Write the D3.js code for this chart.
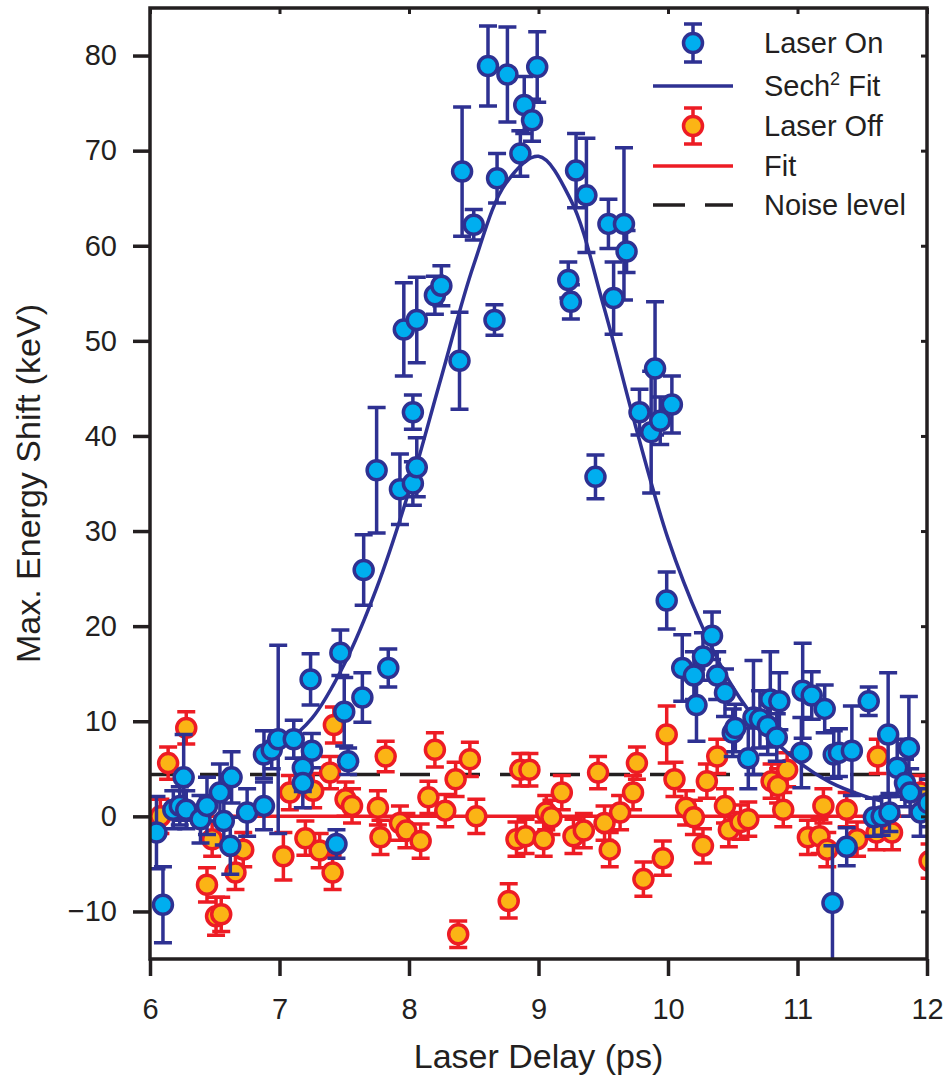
<!DOCTYPE html>
<html>
<head>
<meta charset="utf-8">
<script src="https://cdn.jsdelivr.net/npm/d3@7"></script>
<style>
  html, body { margin: 0; padding: 0; background: #fff; }
  svg { display: block; }
  text { font-family: "Liberation Sans", Arial, Helvetica, sans-serif; fill: #231f20; }
</style>
</head>
<body>
<div id="chart"></div>
<script>
// Laser on / off energy shift vs delay

const xTicks = [6, 7, 8, 9, 10, 11, 12];
const yTicks = [-10, 0, 10, 20, 30, 40, 50, 60, 70, 80];

// Laser On (x = delay ps, y = keV, e = error)
const onX = [6.05, 6.10, 6.18, 6.23, 6.26, 6.28, 6.39, 6.44, 6.54, 6.57, 6.62, 6.63, 6.75, 6.88, 6.88, 6.94, 6.99, 7.11, 7.18, 7.18,
  7.25, 7.24, 7.44, 7.47, 7.50, 7.53, 7.64, 7.65, 7.75, 7.84, 7.93, 7.96, 8.03, 8.03, 8.06, 8.06, 8.20, 8.25, 8.39, 8.41,
  8.50, 8.61, 8.66, 8.68, 8.76, 8.86, 8.89, 8.95, 8.99, 9.23, 9.25, 9.29, 9.37, 9.44, 9.54, 9.58, 9.66, 9.68, 9.78, 9.87,
  9.90, 9.94, 10.03, 9.99, 10.11, 10.20, 10.22, 10.27, 10.34, 10.38, 10.44, 10.50, 10.52, 10.62, 10.66, 10.71, 10.77, 10.79, 10.84, 10.86,
  11.03, 11.04, 11.11, 11.21, 11.27, 11.28, 11.32, 11.38, 11.42, 11.55, 11.59, 11.65, 11.70, 11.71, 11.77, 11.83, 11.86, 11.87, 11.95, 12.01];
const onY = [-1.7, -9.3, 0.7, 1.1, 4.1, 0.7, -0.3, 1.1, 2.5, -0.5, -3.1, 4.1, 0.4, 1.1, 6.5, 7.0, 8.1, 8.1, 5.1, 3.5,
  6.9, 14.4, -2.9, 17.2, 11.0, 5.8, 12.5, 25.9, 36.4, 15.6, 34.4, 51.2, 35.0, 42.5, 36.7, 52.2, 54.8, 55.8, 47.9, 67.8,
  62.2, 78.9, 52.2, 67.1, 78.0, 69.7, 74.8, 73.2, 78.8, 56.4, 54.1, 67.9, 65.3, 35.7, 62.3, 54.5, 62.3, 59.4, 42.5, 40.4,
  47.1, 41.6, 43.3, 22.7, 15.6, 14.8, 11.7, 16.8, 19.0, 14.8, 13.0, 8.8, 9.3, 6.1, 10.4, 10.2, 9.5, 12.3, 8.3, 12.1,
  6.7, 13.2, 12.7, 11.3, -9.1, 6.5, 6.7, -3.2, 6.9, 12.1, -0.1, 0.0, 8.6, 0.4, 5.1, 3.5, 7.2, 2.5, 0.4, 1.4];
const onE = [3.8, 4.0, 2.0, 2.0, 4.5, 2.0, 2.5, 3.0, 3.0, 2.5, 3.0, 2.7, 2.5, 2.5, 2.5, 2.0, 9.9, 2.0, 2.5, 2.6,
  1.8, 2.7, 1.5, 2.4, 3.6, 1.4, 2.6, 3.7, 6.6, 2.0, 3.7, 4.9, 2.3, 1.8, 3.1, 4.5, 2.0, 2.1, 5.1, 6.8,
  1.6, 4.2, 1.6, 2.6, 5.0, 2.4, 3.0, 2.2, 3.7, 1.9, 1.8, 3.9, 6.0, 2.3, 2.6, 3.8, 8.0, 2.2, 2.4, 6.4,
  7.0, 2.5, 3.0, 3.0, 3.5, 2.5, 3.8, 2.5, 2.5, 2.5, 2.5, 2.5, 2.5, 3.2, 6.0, 3.0, 3.0, 5.0, 2.5, 3.0,
  3.7, 5.0, 2.5, 2.5, 6.0, 2.5, 2.5, 2.0, 4.7, 1.5, 2.0, 2.0, 6.5, 2.0, 3.0, 2.5, 5.4, 2.5, 2.5, 2.5];

// Laser Off
const offX = [6.08, 6.14, 6.28, 6.44, 6.48, 6.51, 6.55, 6.66, 6.72, 7.03, 7.08, 7.20, 7.26, 7.31, 7.39, 7.41, 7.42, 7.51, 7.56, 7.76,
  7.78, 7.82, 7.93, 7.98, 8.09, 8.15, 8.20, 8.28, 8.36, 8.38, 8.47, 8.52, 8.77, 8.83, 8.86, 8.90, 8.93, 9.04, 9.06, 9.10,
  9.18, 9.27, 9.35, 9.46, 9.51, 9.55, 9.63, 9.73, 9.76, 9.81, 9.96, 9.99, 10.05, 10.14, 10.20, 10.27, 10.30, 10.38, 10.44, 10.47,
  10.56, 10.62, 10.80, 10.85, 10.89, 10.92, 11.08, 11.17, 11.20, 11.23, 11.38, 11.46, 11.61, 11.62, 11.73, 11.95, 12.02];
const offY = [0.0, 5.6, 9.3, -7.2, -2.4, -10.5, -10.3, -5.9, -3.5, -4.2, 2.5, -2.3, 2.7, -3.6, 4.6, -5.9, 9.6, 1.8, 1.1, 0.9,
  -2.2, 6.3, -0.7, -1.5, -2.6, 2.0, 7.0, 0.6, 3.9, -12.4, 6.0, 0.0, -8.9, -2.4, 4.9, -2.1, 4.9, -2.4, 0.4, -0.1,
  2.5, -2.1, -1.5, 4.6, -0.7, -3.5, 0.4, 2.5, 5.6, -6.6, -4.4, 8.6, 3.9, 0.9, -0.1, -3.1, 3.7, 6.3, 1.1, -1.4,
  -0.6, -0.3, 3.7, 3.2, 0.7, 4.9, -2.2, -2.1, 1.1, -3.5, 0.7, -2.4, -1.7, 6.3, -1.7, 2.5, -4.7];
const offE = [1.8, 1.7, 1.7, 1.8, 1.8, 2.0, 1.8, 1.8, 1.8, 2.5, 1.8, 1.8, 1.8, 1.8, 1.7, 1.8, 1.9, 1.8, 1.8, 1.8,
  1.8, 1.6, 1.8, 1.8, 1.8, 1.7, 1.8, 1.7, 1.8, 1.4, 1.8, 1.8, 1.8, 1.8, 1.7, 1.8, 1.7, 1.8, 1.8, 1.8,
  1.8, 1.8, 1.8, 1.7, 1.8, 1.8, 1.8, 1.8, 1.7, 1.8, 1.8, 3.0, 1.8, 1.8, 1.8, 1.8, 1.8, 1.8, 1.8, 1.8,
  1.8, 1.8, 1.8, 1.8, 1.8, 1.8, 1.8, 1.8, 1.8, 1.8, 1.8, 1.8, 1.8, 1.8, 1.8, 1.8, 1.8];

// Sech^2 fit
const fitX = [7.0, 7.25, 7.5, 7.75, 8.0, 8.25, 8.5, 8.75, 9.0, 9.25, 9.5, 9.75, 10.0, 10.25, 10.5, 10.75, 11.0, 11.25, 11.5, 11.65];
const fitY = [7.2, 10.3, 16.0, 24.0, 34.2, 46.2, 58.0, 66.6, 69.4, 64.8, 53.8, 41.0, 29.2, 20.4, 13.6, 9.0, 5.8, 3.6, 2.2, 1.6];

// laser-off fit and noise level (keV)
const offFitX = [6, 12];
const offFitY = [0, 0];
const noiseX = [6, 12];
const noiseY = [4.4, 4.4];

const legendLabels = ["Laser On", "Sech", "Laser Off", "Fit", "Noise level"];

const W = 946, H = 1081;
const margin = { left: 150, right: 19, top: 8, bottom: 122 };

const navy = "#2e3192", cyan = "#00aeef", red = "#ed1c24", orange = "#fbb415", ink = "#231f20";

const svg = d3.select("#chart").append("svg")
  .attr("width", W).attr("height", H);

const x = d3.scaleLinear().domain([6, 12]).range([margin.left, W - margin.right]);
const y = d3.scaleLinear().domain([-15, 85]).range([H - margin.bottom, margin.top]);

svg.append("clipPath").attr("id", "plot")
  .append("rect")
  .attr("x", x(6)).attr("y", y(85))
  .attr("width", x(12) - x(6)).attr("height", y(-15) - y(85));

const plot = svg.append("g").attr("clip-path", "url(#plot)");

const line = d3.line().x(d => x(d[0])).y(d => y(d[1]));

// red fit + noise line
plot.append("path")
  .datum(offFitX.map((v, i) => [v, offFitY[i]]))
  .attr("d", line).attr("fill", "none")
  .attr("stroke", red).attr("stroke-width", 3.5);

plot.append("path")
  .datum(noiseX.map((v, i) => [v, noiseY[i]]))
  .attr("d", line).attr("fill", "none")
  .attr("stroke", ink).attr("stroke-width", 3.5)
  .attr("stroke-dasharray", "30 20");

function drawSeries(xs, ys, es, stroke, fill) {
  const pts = xs.map((v, i) => ({ x: v, y: ys[i], e: es[i] }));
  const g = plot.append("g");
  const capW = 9;
  g.append("g")
    .attr("stroke", stroke).attr("stroke-width", 3.5).attr("fill", "none")
    .selectAll("path")
    .data(pts)
    .join("path")
    .attr("d", d => {
      const cx = x(d.x), y1 = y(d.y + d.e), y0 = y(d.y - d.e);
      return `M${cx},${y1}V${y0}M${cx - capW},${y1}H${cx + capW}M${cx - capW},${y0}H${cx + capW}`;
    });
  g.append("g").selectAll("circle")
    .data(pts)
    .join("circle")
    .attr("cx", d => x(d.x))
    .attr("cy", d => y(d.y))
    .attr("r", 9.5)
    .attr("fill", fill)
    .attr("stroke", stroke)
    .attr("stroke-width", 3.5);
}

drawSeries(offX, offY, offE, red, orange);

// blue fit
const fitLine = d3.line().x(d => x(d[0])).y(d => y(d[1])).curve(d3.curveCatmullRom);
plot.append("path")
  .datum(fitX.map((v, i) => [v, fitY[i]]))
  .attr("d", fitLine)
  .attr("fill", "none")
  .attr("stroke", navy).attr("stroke-width", 3.5);

drawSeries(onX, onY, onE, navy, cyan);

// frame and axes
const axisG = svg.append("g");

axisG.append("g")
  .attr("transform", `translate(0,${y(-15)})`)
  .call(d3.axisBottom(x).tickValues(xTicks).tickSize(17).tickPadding(22).tickFormat(d3.format("d")))
  .call(g => g.select(".domain").remove())
  .call(g => g.selectAll("line").attr("stroke", ink).attr("stroke-width", 3.5))
  .call(g => g.selectAll("text").style("font-size", "29px").attr("fill", ink));

axisG.append("g")
  .attr("transform", `translate(${x(6)},0)`)
  .call(d3.axisLeft(y).tickValues(yTicks).tickSize(17).tickPadding(16).tickFormat(d3.format("d")))
  .call(g => g.select(".domain").remove())
  .call(g => g.selectAll("line").attr("stroke", ink).attr("stroke-width", 3.5))
  .call(g => g.selectAll("text").style("font-size", "29px").attr("fill", ink));

// small inner ticks on top and right
axisG.append("g")
  .attr("transform", `translate(0,${y(85)})`)
  .call(d3.axisBottom(x).tickValues(xTicks).tickSize(6).tickFormat(""))
  .call(g => g.select(".domain").remove())
  .call(g => g.selectAll("line").attr("stroke", ink).attr("stroke-width", 3));

axisG.append("g")
  .attr("transform", `translate(${x(12)},0)`)
  .call(d3.axisLeft(y).tickValues(yTicks).tickSize(6).tickFormat(""))
  .call(g => g.select(".domain").remove())
  .call(g => g.selectAll("line").attr("stroke", ink).attr("stroke-width", 3));

axisG.append("rect")
  .attr("x", x(6)).attr("y", y(85))
  .attr("width", x(12) - x(6)).attr("height", y(-15) - y(85))
  .attr("fill", "none").attr("stroke", ink).attr("stroke-width", 3.5);

svg.append("text")
  .attr("x", (x(6) + x(12)) / 2).attr("y", 1068)
  .attr("text-anchor", "middle")
  .style("font-size", "34px")
  .text("Laser Delay (ps)");

svg.append("text")
  .attr("transform", `translate(40,${(y(-15) + y(85)) / 2}) rotate(-90)`)
  .attr("text-anchor", "middle")
  .style("font-size", "34px")
  .text("Max. Energy Shift (keV)");

// legend
const lg = svg.append("g");
const rowY = [43, 86, 126, 166, 205];
const symX = 693, txtX = 764;

function legendMarker(cy, stroke, fill, half) {
  lg.append("path")
    .attr("d", `M${symX},${cy - half}V${cy + half}M${symX - 9},${cy - half}H${symX + 9}M${symX - 9},${cy + half}H${symX + 9}`)
    .attr("stroke", stroke).attr("stroke-width", 3.5).attr("fill", "none");
  lg.append("circle").attr("cx", symX).attr("cy", cy).attr("r", 9.5)
    .attr("fill", fill).attr("stroke", stroke).attr("stroke-width", 3.5);
}

legendMarker(rowY[0], navy, cyan, 19);
lg.append("line").attr("x1", 653).attr("x2", 733).attr("y1", rowY[1]).attr("y2", rowY[1])
  .attr("stroke", navy).attr("stroke-width", 3.5);
legendMarker(rowY[2], red, orange, 18);
lg.append("line").attr("x1", 653).attr("x2", 733).attr("y1", rowY[3]).attr("y2", rowY[3])
  .attr("stroke", red).attr("stroke-width", 3.5);
lg.append("line").attr("x1", 653).attr("x2", 733).attr("y1", rowY[4]).attr("y2", rowY[4])
  .attr("stroke", ink).attr("stroke-width", 3.5).attr("stroke-dasharray", "32 20");

legendLabels.forEach((t, i) => {
  const tx = lg.append("text")
    .attr("x", txtX).attr("y", rowY[i]).attr("dy", "0.36em")
    .style("font-size", "29px");
  if (i === 1) {
    tx.append("tspan").text("Sech");
    tx.append("tspan").attr("dy", -11).style("font-size", "18px").text("2");
    tx.append("tspan").attr("dy", 11).text(" Fit");
  } else {
    tx.text(t);
  }
});
</script>
</body>
</html>
